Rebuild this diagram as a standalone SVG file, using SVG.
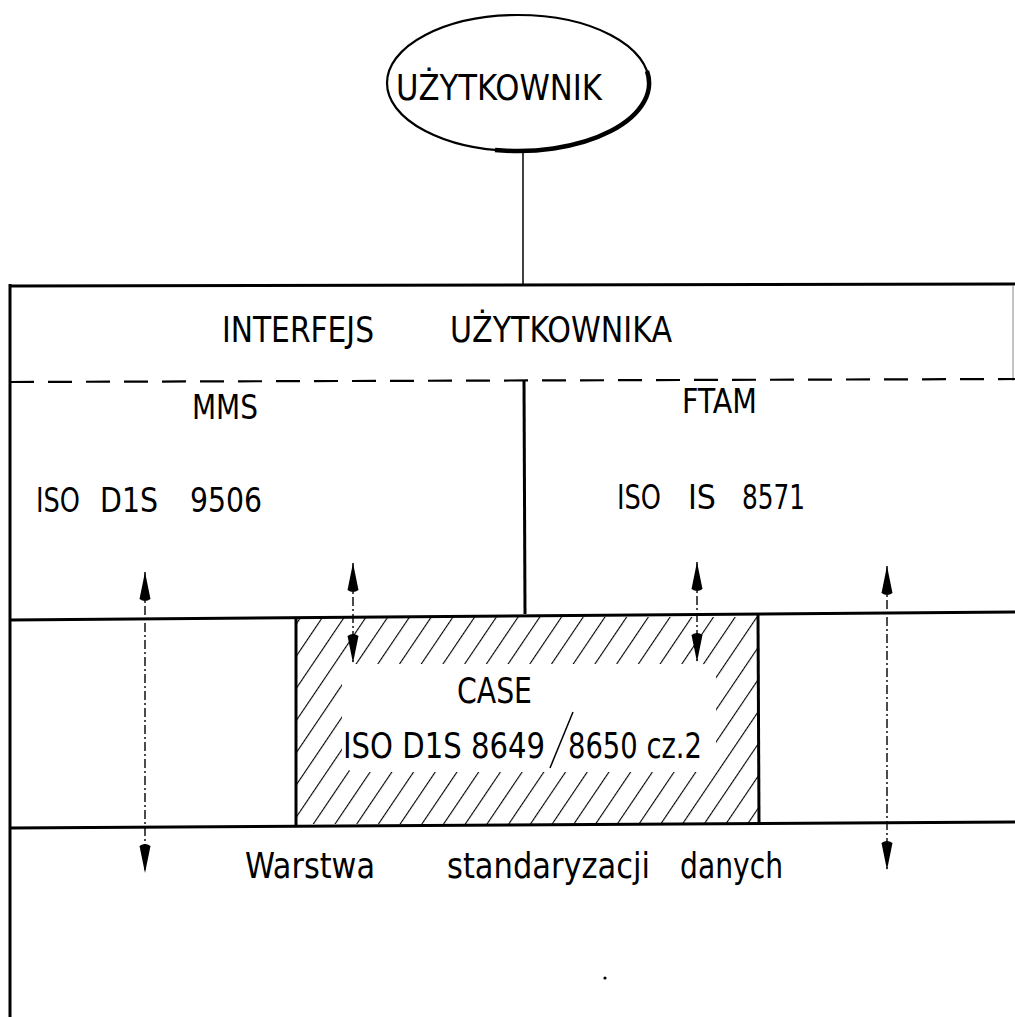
<svg xmlns="http://www.w3.org/2000/svg" width="1015" height="1017" viewBox="0 0 1015 1017">
<style>
text{font-family:"DejaVu Sans Condensed","DejaVu Sans","Liberation Sans",sans-serif;fill:#000;font-weight:normal}
.t33{font-size:33px}
.t35{font-size:35px}
.t36{font-size:36px}
.thick{stroke:#000;stroke-width:3;fill:none}
.thin{stroke:#000;stroke-width:1.5;fill:none}
.arr{stroke:#000;stroke-width:1.4;fill:none;stroke-dasharray:9 3 2 3;marker-start:url(#ah);marker-end:url(#ah)}
</style>
<defs>
<marker id="ah" viewBox="0 -6 30 12" refX="30" refY="0" markerWidth="30" markerHeight="12" markerUnits="userSpaceOnUse" orient="auto-start-reverse">
<path d="M3,-5.5 Q-1,0 3,5.5 L30,0 Z" fill="#000"/>
</marker>
<pattern id="hatch" patternUnits="userSpaceOnUse" width="18" height="18" patternTransform="rotate(34)">
<line x1="0" y1="0" x2="0" y2="18" stroke="#000" stroke-width="2.2"/>
</pattern>
</defs>
<rect width="1015" height="1017" fill="#fff"/>

<g id="uzytkownik">
<ellipse cx="518" cy="83" rx="131" ry="68" fill="#fff" stroke="#000" stroke-width="2.2"/>
<path d="M647,71 A131,68 0 0 1 495,150" fill="none" stroke="#000" stroke-width="4.5"/>
<text class="t35" x="396" y="100" textLength="206" lengthAdjust="spacingAndGlyphs">UŻYTKOWNIK</text>
</g>

<g id="frame">
<line class="thick" x1="10" y1="286" x2="1015" y2="284"/>
<line class="thick" x1="10" y1="284" x2="10" y2="1017"/>
<line x1="1013" y1="285" x2="1013" y2="381" stroke="#888" stroke-width="1"/>
<line x1="10" y1="382" x2="1015" y2="379" stroke="#000" stroke-width="2.2" stroke-dasharray="24 14"/>
</g>

<g id="interfejs">
<text class="t36" x="222" y="342" textLength="152" lengthAdjust="spacingAndGlyphs">INTERFEJS</text>
<text class="t36" x="450" y="342" textLength="222" lengthAdjust="spacingAndGlyphs">UŻYTKOWNIKA</text>
</g>

<g id="mms">
<text class="t33" x="192" y="419" textLength="66" lengthAdjust="spacingAndGlyphs">MMS</text>
<text class="t33" x="36" y="512" textLength="44" lengthAdjust="spacingAndGlyphs">ISO</text>
<text class="t33" x="100" y="512" textLength="58" lengthAdjust="spacingAndGlyphs">D1S</text>
<text class="t33" x="190" y="512" textLength="72" lengthAdjust="spacingAndGlyphs">9506</text>
</g>

<g id="ftam">
<text class="t33" x="682" y="413" textLength="75" lengthAdjust="spacingAndGlyphs">FTAM</text>
<text class="t33" x="617" y="509" textLength="44" lengthAdjust="spacingAndGlyphs">ISO</text>
<text class="t33" x="688" y="509" textLength="28" lengthAdjust="spacingAndGlyphs">IS</text>
<text class="t33" x="742" y="509" textLength="63" lengthAdjust="spacingAndGlyphs">8571</text>
</g>

<g id="divider">
<line class="thick" x1="524" y1="381" x2="525" y2="614"/>
</g>

<g id="case">
<rect x="296" y="617" width="462" height="207" fill="url(#hatch)"/>
<rect x="342" y="664" width="374" height="108" rx="14" fill="#fff"/>
<line class="thick" x1="296" y1="617" x2="296" y2="826"/>
<line class="thick" x1="758" y1="614" x2="759" y2="823"/>
<text class="t35" x="457" y="703" textLength="75" lengthAdjust="spacingAndGlyphs">CASE</text>
<text class="t35" x="343" y="758" textLength="202" lengthAdjust="spacingAndGlyphs">ISO D1S 8649</text>
<line class="thin" x1="573" y1="712" x2="550" y2="768"/>
<text class="t35" x="568" y="758" textLength="134" lengthAdjust="spacingAndGlyphs">8650 cz.2</text>
</g>

<g id="layers">
<line class="thick" x1="10" y1="620" x2="1015" y2="612"/>
<line class="thick" x1="10" y1="828" x2="1015" y2="822"/>
</g>

<g id="warstwa">
<text class="t36" x="245" y="878" textLength="130" lengthAdjust="spacingAndGlyphs">Warstwa</text>
<text class="t36" x="447" y="878" textLength="203" lengthAdjust="spacingAndGlyphs">standaryzacji</text>
<text class="t36" x="680" y="878" textLength="103" lengthAdjust="spacingAndGlyphs">danych</text>
</g>

<g id="connectors">
<line class="thin" x1="523" y1="151" x2="523" y2="285"/>
<line class="arr" x1="145" y1="572" x2="145" y2="873"/>
<line class="arr" x1="353" y1="563" x2="353" y2="663"/>
<line class="arr" x1="697" y1="562" x2="697" y2="662"/>
<line class="arr" x1="887" y1="566" x2="887" y2="870"/>
</g>

<circle cx="605" cy="978" r="1.6" fill="#000"/>
</svg>
